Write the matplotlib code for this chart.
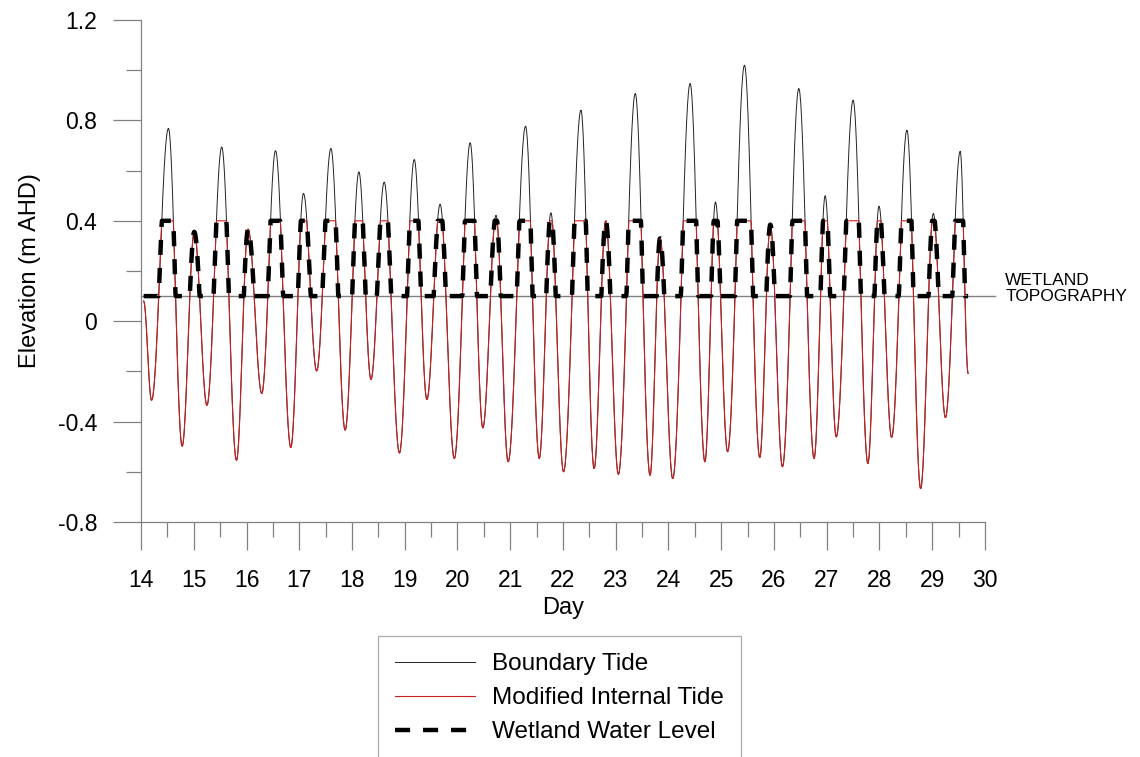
import numpy as np
import matplotlib
matplotlib.use('Agg')
import matplotlib.pyplot as plt

# boundary tide turning points (day, m AHD)
tide_days = [14.05, 14.20, 14.52, 14.78, 15.01, 15.25, 15.53, 15.81, 16.03, 16.29,
             16.55, 16.84, 17.08, 17.33, 17.60, 17.87, 18.13, 18.36, 18.61, 18.90,
             19.18, 19.42, 19.67, 19.94, 20.24, 20.48, 20.73, 20.96, 21.29, 21.55,
             21.77, 22.01, 22.34, 22.59, 22.81, 23.05, 23.37, 23.65, 23.84, 24.08,
             24.41, 24.69, 24.89, 25.12, 25.44, 25.73, 25.93, 26.16, 26.47, 26.76,
             26.97, 27.18, 27.50, 27.78, 27.99, 28.23, 28.52, 28.78, 29.02, 29.25,
             29.53, 29.68]
tide_levels = [0.08, -0.315, 0.768, -0.498, 0.356, -0.335, 0.694, -0.554, 0.367, -0.288,
               0.679, -0.503, 0.509, -0.198, 0.688, -0.434, 0.595, -0.232, 0.554, -0.525,
               0.644, -0.312, 0.466, -0.547, 0.711, -0.425, 0.422, -0.560, 0.777, -0.547,
               0.432, -0.600, 0.841, -0.587, 0.400, -0.610, 0.907, -0.614, 0.330, -0.627,
               0.947, -0.560, 0.475, -0.520, 1.020, -0.543, 0.385, -0.580, 0.927, -0.547,
               0.500, -0.461, 0.880, -0.567, 0.458, -0.463, 0.761, -0.667, 0.429, -0.384,
               0.677, -0.208]

topo_level = 0.1      # wetland topography
gate_level = 0.4      # max level let through to the wetland

y_major = [-0.8, -0.4, 0, 0.4, 0.8, 1.2]
y_labels = ['-0.8', '-0.4', '0', '0.4', '0.8', '1.2']
y_minor = [-0.6, -0.2, 0.2, 0.6, 1.0]
x_major = list(range(14, 31))


def tide_curve(days, levels, n=40):
    # smooth half-cosine between successive turning points
    t_out, v_out = [days[0]], [levels[0]]
    s = np.linspace(0, 1, n)[1:]
    for i in range(len(days) - 1):
        t_out.extend(days[i] + (days[i + 1] - days[i]) * s)
        v_out.extend(levels[i] + (levels[i + 1] - levels[i]) * (1 - np.cos(np.pi * s)) / 2)
    return np.array(t_out), np.array(v_out)


plt.rcParams['font.family'] = ['Liberation Sans', 'DejaVu Sans']
grey = '#808080'

t, boundary = tide_curve(tide_days, tide_levels)
internal = np.minimum(boundary, gate_level)
wetland = np.clip(boundary, topo_level, gate_level)

fig = plt.figure(figsize=(11.4, 7.57), dpi=100)
ax = fig.add_axes([141 / 1140, 1 - 522 / 757, (985 - 141) / 1140, (522 - 20) / 757])

ax.axhline(topo_level, xmin=0, xmax=1.012, color=grey, lw=1, clip_on=False, zorder=1)
ax.plot(t, boundary, color='#222222', lw=0.7, label='Boundary Tide', zorder=2)
ax.plot(t, internal, color='#cc1f1f', lw=0.8, label='Modified Internal Tide', zorder=3)
ax.plot(t, wetland, color='black', lw=3.2, dashes=(3.4, 2.9),
        label='Wetland Water Level', zorder=4)

ax.annotate('WETLAND\nTOPOGRAPHY', xy=(1.0, topo_level),
            xycoords=('axes fraction', 'data'), xytext=(14.5, 5.5),
            textcoords='offset points', ha='left', va='center',
            fontsize=12.5, linespacing=1.05)

ax.set_xlim(14, 30)
ax.set_ylim(-0.8, 1.2)
ax.set_xticks(x_major)
ax.set_xticks(np.arange(14.5, 30, 1), minor=True)
ax.set_yticks(y_major)
ax.set_yticklabels(y_labels)
ax.set_yticks(y_minor, minor=True)

for side in ['top', 'right']:
    ax.spines[side].set_visible(False)
for side in ['left', 'bottom']:
    ax.spines[side].set_color(grey)
    ax.spines[side].set_linewidth(0.9)

ax.tick_params(which='major', length=20.5, width=0.9, color=grey, labelsize=16.5)
ax.tick_params(which='minor', length=10.5, width=0.9, color=grey)
ax.tick_params(axis='x', which='major', pad=13)
ax.tick_params(axis='y', which='major', pad=11)

ax.set_xlabel('Day', fontsize=17, labelpad=4)
ax.set_ylabel('Elevation (m AHD)', fontsize=17, labelpad=12)

leg = fig.legend(loc='upper left', bbox_to_anchor=(378 / 1140, 1 - 636 / 757),
                 bbox_transform=fig.transFigure, borderaxespad=0,
                 fontsize=17.5, handlelength=3.3, handletextpad=0.7,
                 labelspacing=0.5, borderpad=0.7, fancybox=False)
leg.get_frame().set_edgecolor('#999999')
leg.get_frame().set_linewidth(0.9)

fig.savefig('out.png', dpi=100)
